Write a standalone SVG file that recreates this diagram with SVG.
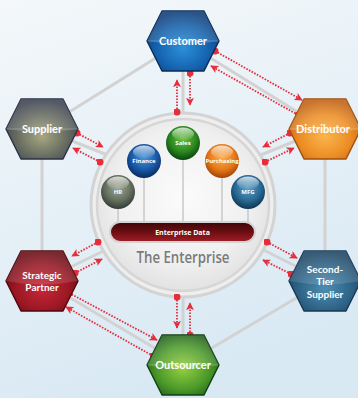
<svg xmlns="http://www.w3.org/2000/svg" width="358" height="398" viewBox="0 0 358 398">
<defs>
<style>
.lbl{font-family:Lato,"Open Sans","Liberation Sans",sans-serif;font-weight:700;font-size:11px;fill:#fff;text-anchor:middle}
.ml{font-size:10px}
.sl{font-family:"Open Sans","Liberation Sans",sans-serif;font-weight:700;font-size:6px;fill:#fff;text-anchor:middle}
.ring{stroke:#d2d2d2;stroke-width:3;fill:none;stroke-linecap:round}
.red{stroke:#e52d3b;stroke-width:1.8;stroke-dasharray:1.6 1.4;fill:none;marker-start:url(#dot);marker-end:url(#ah)}
.stem{stroke:#c9c9c9;stroke-width:1.5}
.hex{stroke-width:1.4;stroke-linejoin:round}
.gloss{fill:#fff;opacity:.13}
.mid{stroke:#fff;stroke-opacity:.35;stroke-width:.6}
.hl{fill:url(#sphHL)}
</style>
<linearGradient id="bg" x1="0" y1="0" x2="0.3" y2="1">
<stop offset="0" stop-color="#f4f8fa"/><stop offset="1" stop-color="#d9e9f4"/>
</linearGradient>
<radialGradient id="gCust" cx=".5" cy=".62" r=".6"><stop offset="0" stop-color="#2b90d8"/><stop offset=".6" stop-color="#1563ae"/><stop offset="1" stop-color="#0c3c78"/></radialGradient>
<radialGradient id="gSup" cx=".5" cy=".62" r=".6"><stop offset="0" stop-color="#a8a880"/><stop offset=".6" stop-color="#656a60"/><stop offset="1" stop-color="#3a4150"/></radialGradient>
<radialGradient id="gDis" cx=".5" cy=".62" r=".6"><stop offset="0" stop-color="#fab64c"/><stop offset=".6" stop-color="#ec8c24"/><stop offset="1" stop-color="#c06012"/></radialGradient>
<radialGradient id="gStr" cx=".5" cy=".62" r=".6"><stop offset="0" stop-color="#c8283a"/><stop offset=".6" stop-color="#9c1824"/><stop offset="1" stop-color="#680a12"/></radialGradient>
<radialGradient id="gSec" cx=".5" cy=".62" r=".6"><stop offset="0" stop-color="#4e8eb0"/><stop offset=".6" stop-color="#2e6488"/><stop offset="1" stop-color="#1c4462"/></radialGradient>
<radialGradient id="gOut" cx=".5" cy=".55" r=".6"><stop offset="0" stop-color="#96d040"/><stop offset=".6" stop-color="#4c9a2a"/><stop offset="1" stop-color="#1c5a18"/></radialGradient>
<radialGradient id="sHR" cx=".5" cy=".38" r=".62"><stop offset="0" stop-color="#a0a898"/><stop offset=".6" stop-color="#66705e"/><stop offset="1" stop-color="#333c38"/></radialGradient>
<radialGradient id="sFin" cx=".5" cy=".38" r=".62"><stop offset="0" stop-color="#4a96dc"/><stop offset=".6" stop-color="#1a5aa8"/><stop offset="1" stop-color="#0a2a5e"/></radialGradient>
<radialGradient id="sSal" cx=".5" cy=".38" r=".62"><stop offset="0" stop-color="#6cc040"/><stop offset=".6" stop-color="#2c8a20"/><stop offset="1" stop-color="#0c4410"/></radialGradient>
<radialGradient id="sPur" cx=".5" cy=".38" r=".62"><stop offset="0" stop-color="#fbb050"/><stop offset=".6" stop-color="#e87a1c"/><stop offset="1" stop-color="#a24406"/></radialGradient>
<radialGradient id="sMfg" cx=".5" cy=".38" r=".62"><stop offset="0" stop-color="#5aa0c8"/><stop offset=".6" stop-color="#2a6a94"/><stop offset="1" stop-color="#0e3654"/></radialGradient>
<linearGradient id="sphHL" x1="0" y1="0" x2="0" y2="1"><stop offset="0" stop-color="#fff" stop-opacity=".75"/><stop offset="1" stop-color="#fff" stop-opacity="0"/></linearGradient>
<radialGradient id="circ" cx=".5" cy=".45" r=".55"><stop offset="0" stop-color="#fbfbfb"/><stop offset=".7" stop-color="#f0f0f0"/><stop offset="1" stop-color="#e2e2e2"/></radialGradient>
<linearGradient id="bar" x1="0" y1="0" x2="0" y2="1"><stop offset="0" stop-color="#3c0608"/><stop offset=".55" stop-color="#701014"/><stop offset="1" stop-color="#a41e26"/></linearGradient>
<path id="hex" d="M-36,0 L-21,-30 L21,-30 L36,0 L21,30 L-21,30 Z"/>
<path id="gl" d="M-36,0 L-21,-30 L21,-30 L36,0 Q0,7 -36,0 Z"/>
<marker id="ah" viewBox="0 0 10 10" refX="9" refY="5" markerWidth="8" markerHeight="8" markerUnits="userSpaceOnUse" orient="auto"><path d="M0,0 L10,5 L0,10 L2.5,5 Z" fill="#e52d3b"/></marker>
<marker id="dot" viewBox="0 0 10 10" refX="5" refY="5" markerWidth="7" markerHeight="7" markerUnits="userSpaceOnUse"><circle cx="5" cy="5" r="5" fill="#e52d3b"/></marker>
</defs>
<rect width="358" height="398" fill="url(#bg)"/>
<g id="connectors">
<line class="ring" x1="183" y1="41" x2="42" y2="129"/>
<line class="ring" x1="42" y1="129" x2="42" y2="281"/>
<line class="ring" x1="42" y1="281" x2="183" y2="365"/>
<line class="ring" x1="183" y1="365" x2="325" y2="281"/>
<line class="ring" x1="325" y1="281" x2="325" y2="129"/>
<line class="ring" x1="325" y1="129" x2="183" y2="41"/>
<line class="ring" x1="183" y1="41" x2="183" y2="150"/>
<line class="ring" x1="42" y1="129" x2="130" y2="164"/>
<line class="ring" x1="325" y1="129" x2="236" y2="165"/>
<line class="ring" x1="42" y1="281" x2="130" y2="238"/>
<line class="ring" x1="325" y1="281" x2="236" y2="236"/>
<line class="ring" x1="183" y1="365" x2="183" y2="260"/>
</g>
<g id="enterprise">
<circle cx="183" cy="205" r="92" fill="#eeeeee" stroke="#d3d3d3" stroke-width="3"/>
<circle cx="183" cy="205" r="86" fill="url(#circ)" stroke="#d6d6d6" stroke-width="2.5"/>
<line class="stem" x1="118" y1="205" x2="118" y2="223"/>
<line class="stem" x1="144" y1="175" x2="144" y2="223"/>
<line class="stem" x1="183" y1="158" x2="183" y2="223"/>
<line class="stem" x1="222" y1="175" x2="222" y2="223"/>
<line class="stem" x1="248" y1="205" x2="248" y2="223"/>
<text x="183" y="263" font-family="'Open Sans','Liberation Sans',sans-serif" font-size="17" font-weight="600" fill="#7a7a7a" text-anchor="middle" textLength="93" lengthAdjust="spacingAndGlyphs">The Enterprise</text>
</g>
<g id="enterprise-data">
<rect x="110" y="222" width="145" height="20" rx="10" fill="url(#bar)" stroke="#d4d4d4" stroke-width="2"/>
<text x="182.5" y="234.5" font-family="'Open Sans','Liberation Sans',sans-serif" font-size="7" font-weight="700" fill="#fff" text-anchor="middle">Enterprise Data</text>
</g>
<g id="hr"><circle cx="118" cy="192" r="17" fill="url(#sHR)"/><ellipse class="hl" cx="118" cy="183" rx="11" ry="6.5"/><text class="sl" x="118" y="194">HR</text></g>
<g id="finance"><circle cx="144" cy="161" r="17" fill="url(#sFin)"/><ellipse class="hl" cx="144" cy="152" rx="11" ry="6.5"/><text class="sl" x="144" y="163">Finance</text></g>
<g id="sales"><circle cx="183" cy="143" r="17" fill="url(#sSal)"/><ellipse class="hl" cx="183" cy="134" rx="11" ry="6.5"/><text class="sl" x="183" y="145">Sales</text></g>
<g id="purchasing"><circle cx="222" cy="161" r="17" fill="url(#sPur)"/><ellipse class="hl" cx="222" cy="152" rx="11" ry="6.5"/><text class="sl" x="222" y="163">Purchasing</text></g>
<g id="mfg"><circle cx="248" cy="192" r="17" fill="url(#sMfg)"/><ellipse class="hl" cx="248" cy="183" rx="11" ry="6.5"/><text class="sl" x="248" y="194">MFG</text></g>
<g id="arrows">
<line class="red" x1="177" y1="112" x2="177" y2="80"/>
<line class="red" x1="190" y1="73" x2="190" y2="105"/>
<line class="red" x1="215" y1="51" x2="302" y2="100"/>
<line class="red" x1="298" y1="115" x2="211" y2="66"/>
<line class="red" x1="77" y1="133" x2="103" y2="147"/>
<line class="red" x1="100" y1="162" x2="73" y2="148"/>
<line class="red" x1="290" y1="133" x2="263" y2="147"/>
<line class="red" x1="265" y1="162" x2="294" y2="148"/>
<line class="red" x1="98" y1="242" x2="72" y2="256"/>
<line class="red" x1="75" y1="273" x2="102" y2="259"/>
<line class="red" x1="267" y1="242" x2="297" y2="258"/>
<line class="red" x1="291" y1="274" x2="263" y2="260"/>
<line class="red" x1="69" y1="293" x2="157" y2="340"/>
<line class="red" x1="153" y1="356" x2="66" y2="307"/>
<line class="red" x1="177" y1="297" x2="177" y2="328"/>
<line class="red" x1="190" y1="335" x2="190" y2="303"/>
</g>
<g id="customer" transform="translate(183,41)"><use href="#hex" class="hex" fill="url(#gCust)" stroke="#0a2c58"/><use href="#gl" class="gloss"/><line class="mid" x1="-35" y1="0" x2="35" y2="0"/><text class="lbl" x="0" y="4">Customer</text></g>
<g id="supplier" transform="translate(42,129)"><use href="#hex" class="hex" fill="url(#gSup)" stroke="#2a3244"/><use href="#gl" class="gloss"/><line class="mid" x1="-35" y1="0" x2="35" y2="0"/><text class="lbl" x="0" y="4">Supplier</text></g>
<g id="distributor" transform="translate(325,129)"><use href="#hex" class="hex" fill="url(#gDis)" stroke="#a0500c"/><use href="#gl" class="gloss"/><line class="mid" x1="-35" y1="0" x2="35" y2="0"/><text class="lbl" x="-2" y="4">Distributor</text></g>
<g id="strategic-partner" transform="translate(42,281)"><use href="#hex" class="hex" fill="url(#gStr)" stroke="#4e080c"/><use href="#gl" class="gloss"/><text class="lbl ml" x="0" y="-2.5">Strategic</text><text class="lbl ml" x="0" y="10">Partner</text></g>
<g id="second-tier-supplier" transform="translate(325,281)"><use href="#hex" class="hex" fill="url(#gSec)" stroke="#173856"/><use href="#gl" class="gloss"/><text class="lbl ml" x="0" y="-8.5">Second-</text><text class="lbl ml" x="0" y="4">Tier</text><text class="lbl ml" x="0" y="16.5">Supplier</text></g>
<g id="outsourcer" transform="translate(183,365)"><use href="#hex" class="hex" fill="url(#gOut)" stroke="#124010"/><use href="#gl" class="gloss"/><line class="mid" x1="-35" y1="0" x2="35" y2="0"/><text class="lbl" x="0" y="4">Outsourcer</text></g>
</svg>
